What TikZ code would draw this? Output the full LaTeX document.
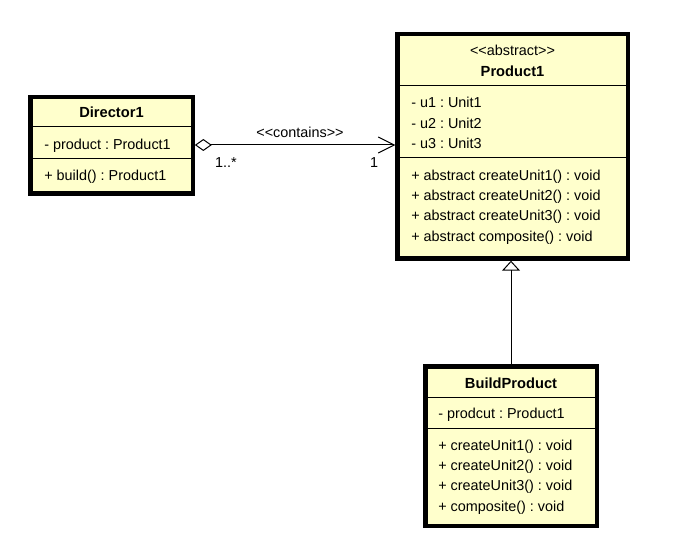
\documentclass[tikz,border=0pt]{standalone}
\usepackage{fontspec}
\setmainfont{Liberation Sans}[Ligatures=ResetAll]
\frenchspacing
\usetikzlibrary{arrows.meta}
\definecolor{classfill}{HTML}{FFFFCC}
\newcommand{\lgl}{<\kern0pt<}
\newcommand{\rgl}{>\kern0pt>}
\tikzset{
  classbox/.style={draw=black, line width=2.25pt, fill=classfill, rectangle, inner sep=0pt},
  divider/.style={draw=black, line width=0.75pt},
  txt/.style={inner sep=0pt, font=\fontsize{10.8}{13}\selectfont, text height=1.6ex, text depth=0.45ex},
  member/.style={txt, anchor=west},
  title/.style={txt, font=\fontsize{11}{13}\selectfont\bfseries},
  conn/.style={draw=black, line width=0.75pt},
}
\begin{document}
\begin{tikzpicture}[x=0.75pt,y=-0.75pt]
\useasboundingbox (0,0) rectangle (691,548);
% ---------- Director1 ----------
\node[classbox, minimum width=161*0.75pt, minimum height=95*0.75pt] (dir) at (111.5,145.5) {};
\draw[divider] (31,127) -- (192,127);
\draw[divider] (31,159) -- (192,159);
\draw[line width=2.25pt] (dir.south west) rectangle (dir.north east);
\node[title] (dirname) at (111.5,113.5) {Director1};
\node[member] (dira) at (44,145.5) {- product : Product1};
\node[member] (dirm) at (44,176.5) {+ build() : Product1};
% ---------- Product1 ----------
\node[classbox, minimum width=229*0.75pt, minimum height=223*0.75pt] (prod) at (512.5,146.5) {};
\draw[divider] (398,86) -- (627,86);
\draw[divider] (398,158) -- (627,158);
\draw[line width=2.25pt] (prod.south west) rectangle (prod.north east);
\node[txt] (prodst) at (512.5,51.5) {\lgl abstract\rgl};
\node[title] (prodname) at (512.5,72.5) {Product1};
\node[member] (pa1) at (411,103.5) {- u1 : Unit1};
\node[member] (pa2) at (411,124.5) {- u2 : Unit2};
\node[member] (pa3) at (411,144.5) {- u3 : Unit3};
\node[member] (pm1) at (411,176.5) {+ abstract createUnit1() : void};
\node[member] (pm2) at (411,196.5) {+ abstract createUnit2() : void};
\node[member] (pm3) at (411,216.5) {+ abstract createUnit3() : void};
\node[member] (pm4) at (411,237.5) {+ abstract composite() : void};
% ---------- BuildProduct ----------
\node[classbox, minimum width=170*0.75pt, minimum height=158*0.75pt] (build) at (511,446) {};
\draw[divider] (426,397) -- (596,397);
\draw[divider] (426,428) -- (596,428);
\draw[line width=2.25pt] (build.south west) rectangle (build.north east);
\node[title] (buildname) at (511,384.5) {BuildProduct};
\node[member] (ba) at (438,414.5) {- prodcut : Product1};
\node[member] (bm1) at (438,446.5) {+ createUnit1() : void};
\node[member] (bm2) at (438,466.5) {+ createUnit2() : void};
\node[member] (bm3) at (438,486.5) {+ createUnit3() : void};
\node[member] (bm4) at (438,507.5) {+ composite() : void};
% ---------- connectors ----------
\coordinate (aggS) at (dir.east |- 0,145);
\coordinate (aggE) at (prod.west |- 0,145);
\draw[conn, {Diamond[open, length=12.75pt, width=9pt, line width=0.75pt]}-{Straight Barb[length=12pt, width=12pt, line width=0.75pt]}] ([xshift=1pt]aggS) -- ([xshift=-0.9pt]aggE);
\node[txt] (contains) at (300,133) {\lgl contains\rgl};
\node[txt] (m1) at (226,163) {1..*};
\node[txt] (m2) at (374,163) {1};
\draw[conn, -{Triangle[open, length=7.5pt, width=13.5pt, line width=0.75pt]}] (build.north) -- ([yshift=-0.9pt]build.north |- prod.south);
\end{tikzpicture}
\end{document}
